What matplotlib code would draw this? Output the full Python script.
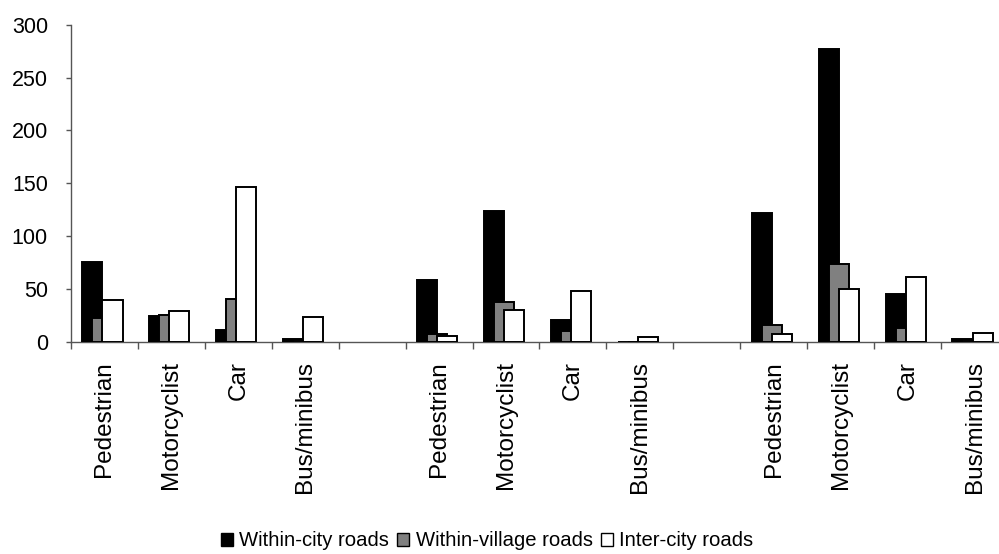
import matplotlib
matplotlib.use("Agg")
import matplotlib.pyplot as plt
from matplotlib.patches import Patch
import numpy as np

plt.rcParams['font.family'] = ['Liberation Sans', 'DejaVu Sans']

categories = ["Pedestrian", "Motorcyclist", "Car", "Bus/minibus"]
n_groups = 3
series_names = ["Within-city roads", "Within-village roads", "Inter-city roads"]
within_city = [75, 24, 11, 2, 58, 124, 20, 0, 122, 277, 45, 2]
within_village = [22, 25, 40, 1, 7, 37, 10, 0, 16, 73, 13, 1]
inter_city = [39, 29, 146, 23, 5, 30, 48, 4, 7, 50, 61, 8]
yticks = [0, 50, 100, 150, 200, 250, 300]

W, H = 999, 554
fig = plt.figure(figsize=(W / 100, H / 100), dpi=100)
ax_left, ax_right, ax_top, ax_bot = 71, 1008, 25, 341.5
ax = fig.add_axes([ax_left / W, 1 - ax_bot / H, (ax_right - ax_left) / W, (ax_bot - ax_top) / H])

pos = []
labels = []
for g in range(n_groups):
    for i, c in enumerate(categories):
        pos.append(g * 5 + i)
        labels.append(c)
pos = np.array(pos, dtype=float)

bw = 0.30
series = [within_city, within_village, inter_city]
colors = ["#000000", "#808080", "#ffffff"]
offsets = [-0.18, -0.03, 0.12]
for vals, col, off in zip(series, colors, offsets):
    ax.bar(pos + off, vals, width=bw, color=col, edgecolor="black", linewidth=1.4, zorder=3)

ax.set_xlim(-0.5, 13.5)
ax.set_ylim(0, 300)
ax.set_yticks(yticks)
ax.set_yticklabels([str(v) for v in yticks], fontsize=15.5)
ax.tick_params(axis='y', direction='out', length=3.6, width=1, color='#555555', pad=13)

ax.set_xticks(np.arange(-0.5, 14.0, 1.0), minor=True)
ax.set_xticks(pos)
ax.set_xticklabels(labels, rotation=90, fontsize=17.5, va='top', ha='center')
ax.tick_params(axis='x', which='major', length=0, pad=14)
ax.tick_params(axis='x', which='minor', direction='out', length=5, width=1, color='#555555')

for s in ['top', 'right']:
    ax.spines[s].set_visible(False)
for s in ['left', 'bottom']:
    ax.spines[s].set_color('#555555')
    ax.spines[s].set_linewidth(1)

handles = [Patch(facecolor=c, edgecolor='black', linewidth=1) for c in colors]
fig.legend(handles, series_names, loc='center', bbox_to_anchor=(487 / W, 1 - 541 / H),
           ncol=3, frameon=False, fontsize=14.6, handlelength=0.6, handleheight=0.6,
           handletextpad=0.3, columnspacing=0.4)

fig.savefig("out.png", dpi=100)
